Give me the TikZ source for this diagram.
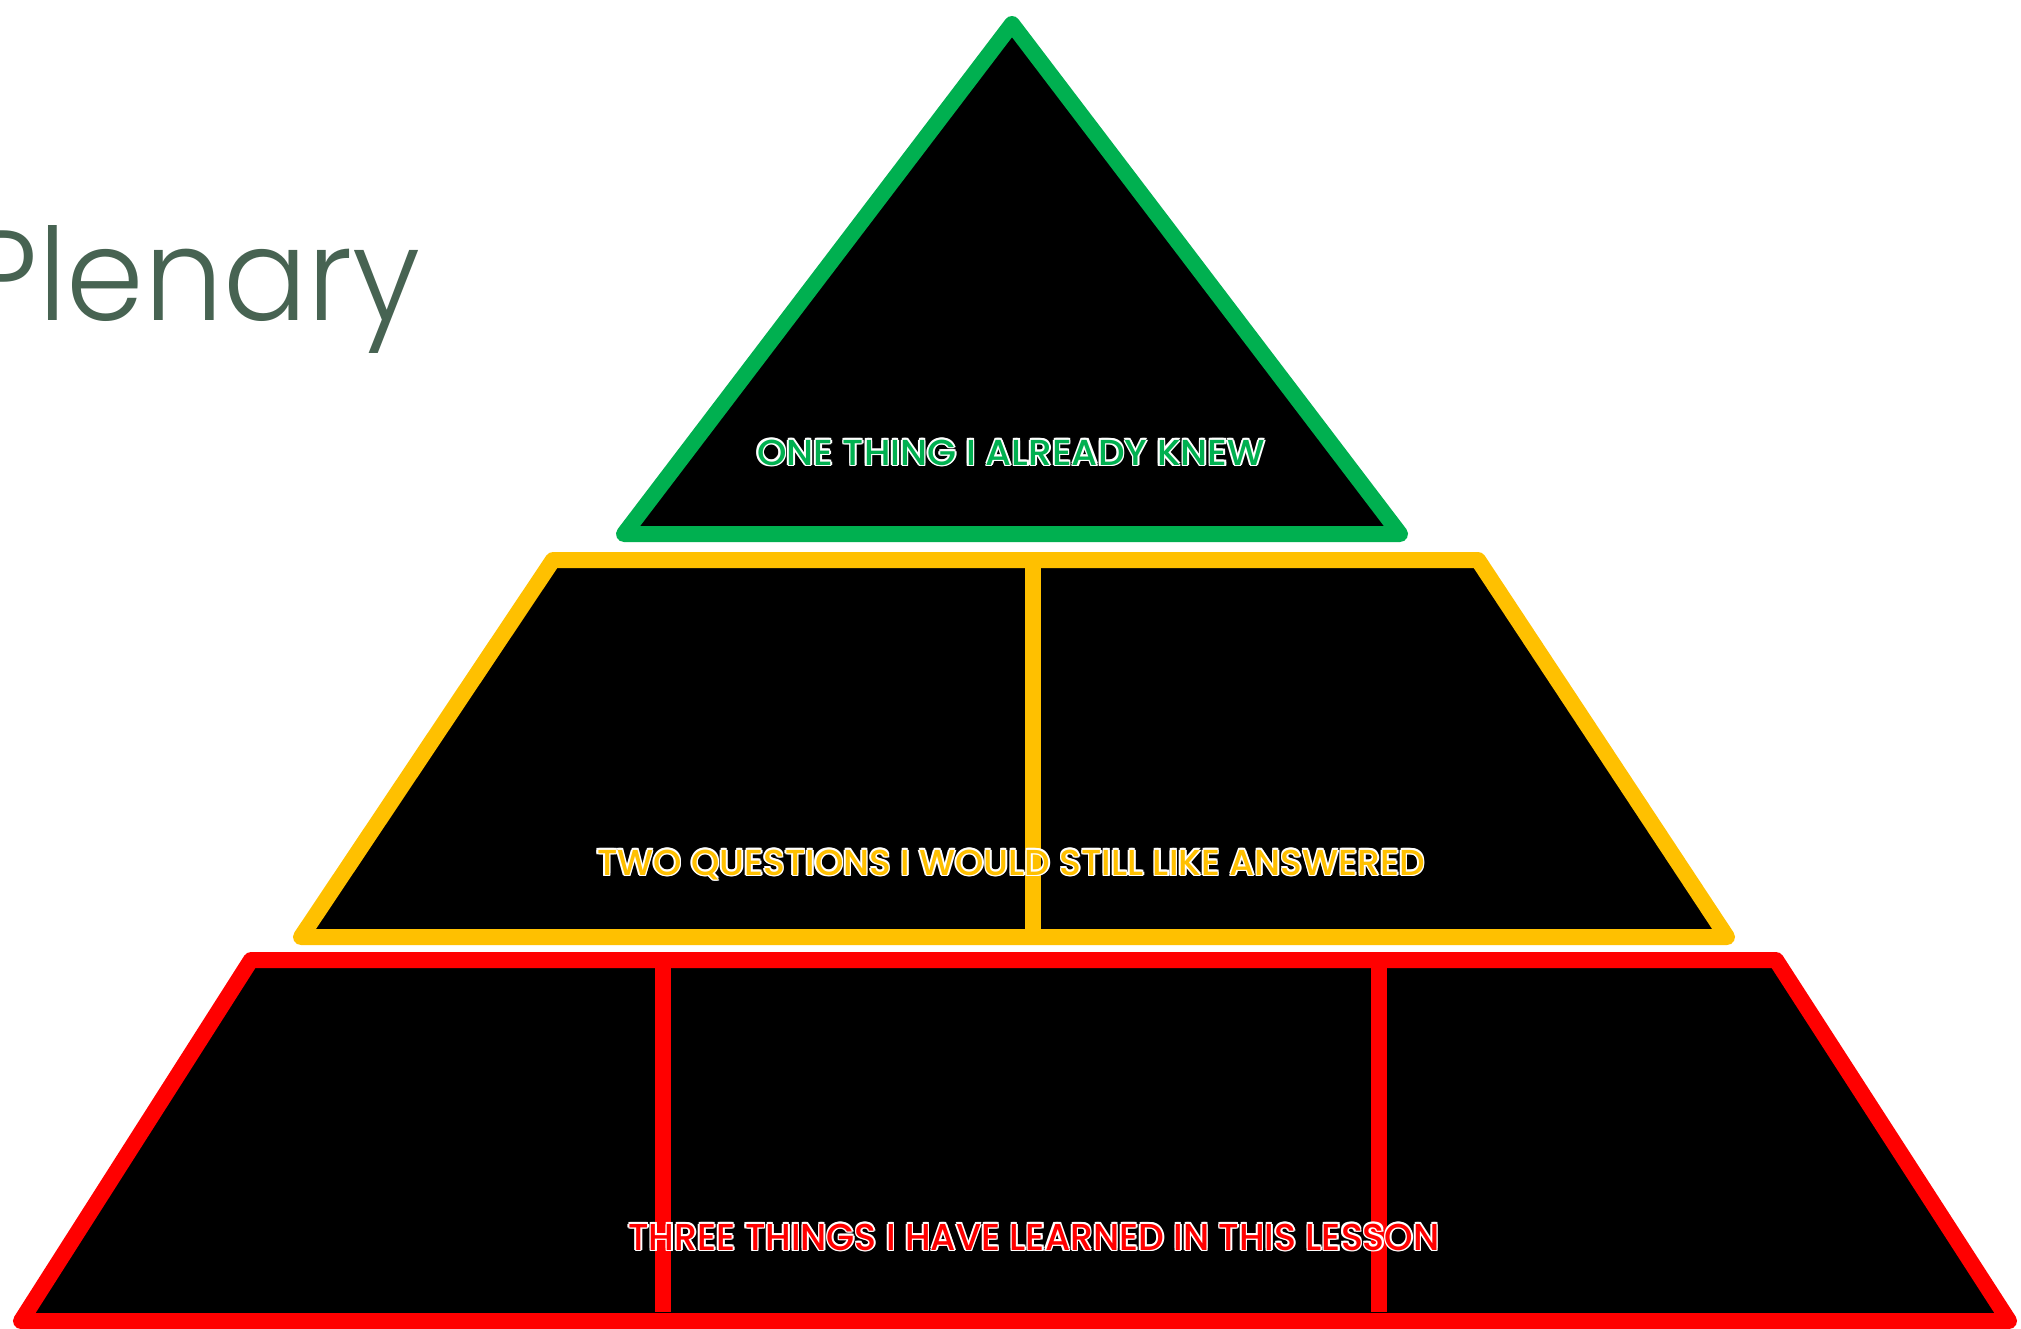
\documentclass[tikz,border=0pt]{standalone}
\usepackage{fontspec}
\setmainfont{Poppins}
\newfontfamily\lblfont{Poppins Medium}
\newfontfamily\titlefont{Poppins Light}
\usepackage{graphicx}
\definecolor{tgreen}{HTML}{00B050}
\definecolor{tyellow}{HTML}{FFC000}
\definecolor{tred}{HTML}{FF0000}
\definecolor{plen}{RGB}{71,99,82}
\newcommand\hcopy[3]{\makebox[0pt][l]{\hspace*{#1}\raisebox{#2}{#3}}}
\newcommand\halotext[2]{{\color{white}%
  \hcopy{1.3pt}{0pt}{#2}\hcopy{-1.3pt}{0pt}{#2}\hcopy{0pt}{1.3pt}{#2}\hcopy{0pt}{-1.3pt}{#2}%
  \hcopy{.92pt}{.92pt}{#2}\hcopy{-.92pt}{.92pt}{#2}\hcopy{.92pt}{-.92pt}{#2}\hcopy{-.92pt}{-.92pt}{#2}}%
  \textcolor{#1}{#2}}
\newcommand\tiertext[4]{\resizebox{#2}{#3}{\fontsize{30}{36}\lblfont\halotext{#1}{#4}}}
\begin{document}
\begin{tikzpicture}[x=1pt,y=-1pt,
  tier/.style={fill=black, line width=16pt, line join=round},
  divider/.style={line width=16pt},
  lbl/.style={inner sep=0pt, outer sep=0pt, anchor=base}]
\useasboundingbox (0,0) rectangle (2021,1328);
% title
\node[inner sep=0pt, anchor=base east, text=plen] (title) at (421,320) {\resizebox{453pt}{95pt}{\fontsize{134}{160}\titlefont Plenary}};
% green tier
\coordinate (g1) at (1012,24);
\coordinate (g2) at (1400,534);
\coordinate (g3) at (624,534);
\draw[tier, draw=tgreen] (g1) -- (g2) -- (g3) -- cycle;
% yellow tier
\coordinate (y1) at (553,560);
\coordinate (y2) at (1478,560);
\coordinate (y3) at (1727,937);
\coordinate (y4) at (301,937);
\draw[tier, draw=tyellow] (y1) -- (y2) -- (y3) -- (y4) -- cycle;
\coordinate (yd1) at (1033,560);
\coordinate (yd2) at (1033,937);
\draw[divider, draw=tyellow] (yd1) -- (yd2);
% red tier
\coordinate (r1) at (251,960);
\coordinate (r2) at (1776,960);
\coordinate (r3) at (2009,1321);
\coordinate (r4) at (21,1321);
\draw[tier, draw=tred] (r1) -- (r2) -- (r3) -- (r4) -- cycle;
\coordinate (rd1) at (663,960);
\coordinate (rd2) at (663,1312);
\coordinate (rd3) at (1379,960);
\coordinate (rd4) at (1379,1312);
\draw[divider, draw=tred] (rd1) -- (rd2);
\draw[divider, draw=tred] (rd3) -- (rd4);
% labels
\node[lbl] (gtext) at (1011,465) {\tiertext{tgreen}{508pt}{27pt}{ONE THING I ALREADY KNEW}};
\node[lbl] (ytext) at (1011,875) {\tiertext{tyellow}{828pt}{27pt}{TWO QUESTIONS I WOULD STILL LIKE ANSWERED}};
\node[lbl] (rtext) at (1034,1250) {\tiertext{tred}{811pt}{28pt}{THREE THINGS I HAVE LEARNED IN THIS LESSON}};
\end{tikzpicture}
\end{document}
